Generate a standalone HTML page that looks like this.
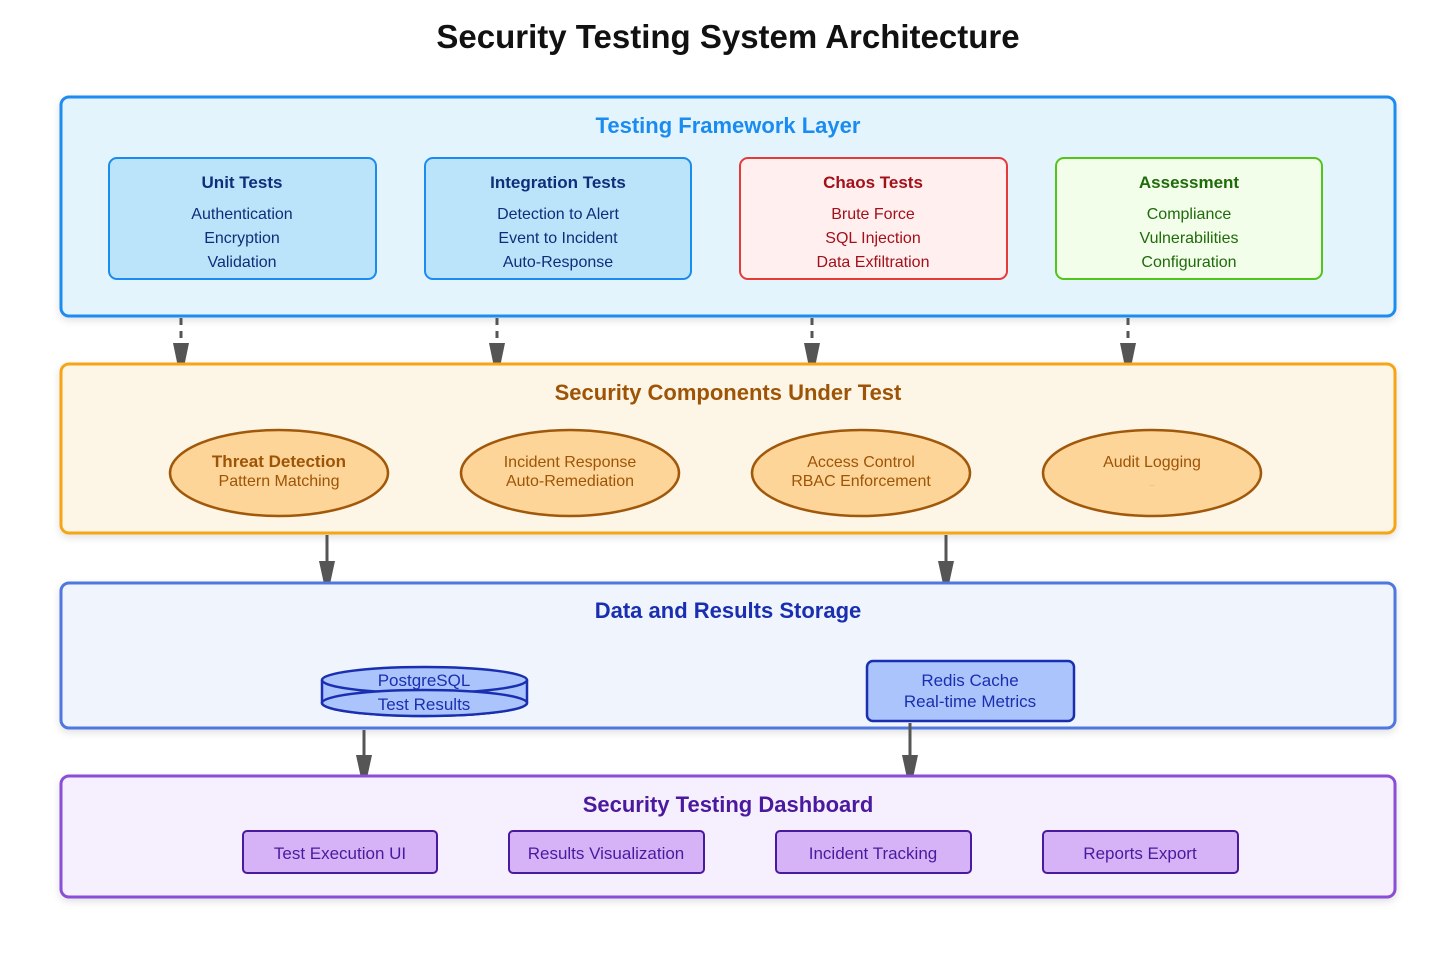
<!DOCTYPE html>
<html><head><meta charset="utf-8"><style>
html,body{margin:0;padding:0;background:#fff;}
svg{display:block;font-family:"Liberation Sans","DejaVu Sans",sans-serif;}
</style></head><body>
<svg width="1456" height="971" viewBox="0 0 1456 971" xmlns="http://www.w3.org/2000/svg">
<defs>
<filter id="sh" x="-5%" y="-10%" width="110%" height="130%"><feDropShadow dx="0" dy="3" stdDeviation="4" flood-color="#000" flood-opacity="0.12"/></filter>
</defs>
<text x="728" y="48" text-anchor="middle" font-size="33" font-weight="bold" fill="#111">Security Testing System Architecture</text>

<!-- Layer 1 -->
<rect x="61" y="97" width="1334" height="219" rx="8" fill="#e3f4fd" stroke="#1a8cf0" stroke-width="3" filter="url(#sh)"/>
<text x="728" y="133" text-anchor="middle" font-size="22" font-weight="bold" fill="#1a8cf0">Testing Framework Layer</text>
<g font-size="16" text-anchor="middle">
<rect x="109" y="158" width="267" height="121" rx="8" fill="#bbe4fb" stroke="#1a8cf0" stroke-width="2"/>
<text x="242" y="188" font-size="17" font-weight="bold" fill="#0d2f7a">Unit Tests</text>
<text x="242" y="219" fill="#0d2f7a">Authentication</text><text x="242" y="243" fill="#0d2f7a">Encryption</text><text x="242" y="267" fill="#0d2f7a">Validation</text>
<rect x="425" y="158" width="266" height="121" rx="8" fill="#bbe4fb" stroke="#1a8cf0" stroke-width="2"/>
<text x="558" y="188" font-size="17" font-weight="bold" fill="#0d2f7a">Integration Tests</text>
<text x="558" y="219" fill="#0d2f7a">Detection to Alert</text><text x="558" y="243" fill="#0d2f7a">Event to Incident</text><text x="558" y="267" fill="#0d2f7a">Auto-Response</text>
<rect x="740" y="158" width="267" height="121" rx="8" fill="#fff0ef" stroke="#e53a3a" stroke-width="2"/>
<text x="873" y="188" font-size="17" font-weight="bold" fill="#a3101a">Chaos Tests</text>
<text x="873" y="219" fill="#a3101a">Brute Force</text><text x="873" y="243" fill="#a3101a">SQL Injection</text><text x="873" y="267" fill="#a3101a">Data Exfiltration</text>
<rect x="1056" y="158" width="266" height="121" rx="8" fill="#f2fdea" stroke="#52c41a" stroke-width="2"/>
<text x="1189" y="188" font-size="17" font-weight="bold" fill="#1f6b0a">Assessment</text>
<text x="1189" y="219" fill="#1f6b0a">Compliance</text><text x="1189" y="243" fill="#1f6b0a">Vulnerabilities</text><text x="1189" y="267" fill="#1f6b0a">Configuration</text>
</g>

<!-- dashed arrows -->
<g stroke="#555" stroke-width="3" stroke-dasharray="7,6" fill="none">
<line x1="181" y1="318" x2="181" y2="344"/><line x1="497" y1="318" x2="497" y2="344"/><line x1="812" y1="318" x2="812" y2="344"/><line x1="1128" y1="318" x2="1128" y2="344"/>
</g>
<g fill="#555">
<polygon points="173,343 189,343 184,367 178,367"/><polygon points="489,343 505,343 500,367 494,367"/><polygon points="804,343 820,343 815,367 809,367"/><polygon points="1120,343 1136,343 1131,367 1125,367"/>
</g>

<!-- Layer 2 -->
<rect x="61" y="364" width="1334" height="169" rx="8" fill="#fdf5e5" stroke="#f5a615" stroke-width="3" filter="url(#sh)"/>
<text x="728" y="400" text-anchor="middle" font-size="22" font-weight="bold" fill="#9e5406">Security Components Under Test</text>
<g fill="#fdd598" stroke="#a0580a" stroke-width="2.5">
<ellipse cx="279" cy="473" rx="109" ry="43"/><ellipse cx="570" cy="473" rx="109" ry="43"/><ellipse cx="861" cy="473" rx="109" ry="43"/><ellipse cx="1152" cy="473" rx="109" ry="43"/>
</g>
<g text-anchor="middle" fill="#9e5406">
<text x="279" y="467" font-size="17" font-weight="bold">Threat Detection</text><text x="279" y="486" font-size="16">Pattern Matching</text>
<text x="570" y="467" font-size="16">Incident Response</text><text x="570" y="486" font-size="16">Auto-Remediation</text>
<text x="861" y="467" font-size="16">Access Control</text><text x="861" y="486" font-size="16">RBAC Enforcement</text>
<text x="1152" y="467" font-size="16">Audit Logging</text><text x="1152" y="486" font-size="6" fill="#c99a60">…</text>
</g>

<!-- solid arrows 2->3 -->
<g stroke="#555" stroke-width="3"><line x1="327" y1="535" x2="327" y2="562"/><line x1="946" y1="535" x2="946" y2="562"/></g>
<g fill="#555"><polygon points="319,561 335,561 330,584 324,584"/><polygon points="938,561 954,561 949,584 943,584"/></g>

<!-- Layer 3 -->
<rect x="61" y="583" width="1334" height="145" rx="8" fill="#eff4fd" stroke="#4f77e0" stroke-width="3" filter="url(#sh)"/>
<text x="728" y="618" text-anchor="middle" font-size="22" font-weight="bold" fill="#1a2fb0">Data and Results Storage</text>
<g fill="#abc4fb" stroke="#1a2fb0" stroke-width="2.5">
<path d="M322,680 L322,703 A102.5,13 0 0 0 527,703 L527,680"/>
<ellipse cx="424.5" cy="680" rx="102.5" ry="13"/>
<ellipse cx="424.5" cy="703" rx="102.5" ry="13"/>
</g>
<text x="424" y="686" text-anchor="middle" font-size="17" fill="#1a2fb0">PostgreSQL</text>
<text x="424" y="710" text-anchor="middle" font-size="17" fill="#1a2fb0">Test Results</text>
<rect x="867" y="661" width="207" height="60" rx="6" fill="#abc4fb" stroke="#1a2fb0" stroke-width="2.5"/>
<text x="970" y="686" text-anchor="middle" font-size="17" fill="#1a2fb0">Redis Cache</text>
<text x="970" y="707" text-anchor="middle" font-size="17" fill="#1a2fb0">Real-time Metrics</text>

<!-- arrows 3->4 -->
<g stroke="#555" stroke-width="3"><line x1="364" y1="730" x2="364" y2="756"/><line x1="910" y1="723" x2="910" y2="756"/></g>
<g fill="#555"><polygon points="356,755 372,755 367,778 361,778"/><polygon points="902,755 918,755 913,778 907,778"/></g>

<!-- Layer 4 -->
<rect x="61" y="776" width="1334" height="121" rx="8" fill="#f6effd" stroke="#8a4fd6" stroke-width="3" filter="url(#sh)"/>
<text x="728" y="812" text-anchor="middle" font-size="22" font-weight="bold" fill="#4a1a9e">Security Testing Dashboard</text>
<g fill="#d6b3f7" stroke="#4a1a9e" stroke-width="2">
<rect x="243" y="831" width="194" height="42" rx="4"/><rect x="509" y="831" width="195" height="42" rx="4"/><rect x="776" y="831" width="195" height="42" rx="4"/><rect x="1043" y="831" width="195" height="42" rx="4"/>
</g>
<g text-anchor="middle" font-size="17" fill="#4a1a9e">
<text x="340" y="859">Test Execution UI</text><text x="606" y="859">Results Visualization</text><text x="873" y="859">Incident Tracking</text><text x="1140" y="859">Reports Export</text>
</g>
</svg>
</body></html>
